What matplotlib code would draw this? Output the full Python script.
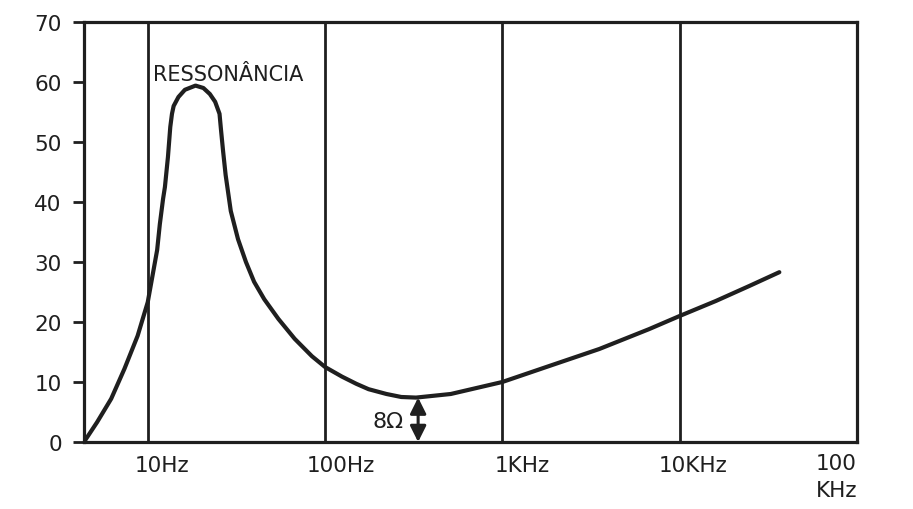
import matplotlib
matplotlib.use("Agg")
import matplotlib.pyplot as plt
from matplotlib import transforms

# impedance curve (Hz, ohms)
freq_hz = [4.37, 5.18, 6.22, 7.39, 8.77, 10.0, 11.3, 11.7, 12.2, 12.5, 13.0,
           13.4, 13.7, 14.0, 14.9, 16.2, 18.6, 20.6, 22.4, 24.0, 25.4, 25.9,
           26.6, 27.5, 29.4, 32.3, 35.8, 39.8, 45.4, 54.6, 67.4, 84.3, 100,
           124.5, 150, 176, 222, 269, 326, 512, 1000, 1854, 3524, 6710, 10000,
           16000, 24700, 36500]
impedance = [0.0, 3.3, 7.2, 12.2, 17.7, 23.3, 32.0, 36.3, 40.5, 42.5, 47.5,
             52.5, 54.7, 56.0, 57.5, 58.7, 59.4, 59.0, 58.0, 56.7, 54.7, 52.0,
             48.5, 44.5, 38.5, 33.8, 30.0, 26.7, 23.8, 20.5, 17.2, 14.3, 12.5,
             10.9, 9.7, 8.8, 8.0, 7.5, 7.4, 8.0, 10.0, 12.7, 15.5, 18.8, 21.0,
             23.5, 26.0, 28.3]

grid_freqs = [10, 100, 1000, 10000]
x_labels = ["10Hz", "100Hz", "1KHz", "10KHz"]
label_shift = [1.21, 1.22, 1.29, 1.19]
y_ticks = [0, 10, 20, 30, 40, 50, 60, 70]

res_freq, res_level = 10.7, 61.3
min_freq, min_level = 335, 7.4

ink = "#1f1f1f"

fig = plt.figure(figsize=(9.13, 5.10), dpi=100)
ax = fig.add_axes([0.092, 0.1314, 0.8466, 0.8235])

ax.plot(freq_hz, impedance, color=ink, lw=3.0, solid_capstyle="round",
        solid_joinstyle="round", zorder=3)

for f in grid_freqs:
    ax.axvline(f, color=ink, lw=2.0, zorder=2)

ax.set_xscale("log")
ax.set_xlim(4.37, 100000)
ax.set_ylim(0, 70)

for s in ax.spines.values():
    s.set_linewidth(2.3)
    s.set_color(ink)

ax.set_xticks([])
ax.minorticks_off()
ax.set_yticks(y_ticks)
ax.tick_params(axis="y", length=8, width=2.0, color=ink, pad=8,
               labelsize=15.5, labelcolor=ink)

# frequency labels sit just right of each grid line
tr = transforms.blended_transform_factory(ax.transData, ax.transAxes)
for f, lab, k in zip(grid_freqs, x_labels, label_shift):
    ax.text(f * k, -0.055, lab, transform=tr, ha="center", va="center",
            fontsize=15.5, color=ink)
ax.text(1.0, -0.05, "100", transform=ax.transAxes, ha="right", va="center",
        fontsize=15.5, color=ink)
ax.text(1.0, -0.115, "KHz", transform=ax.transAxes, ha="right", va="center",
        fontsize=15.5, color=ink)

ax.text(res_freq, res_level, "RESSONÂNCIA", ha="left", va="center",
        fontsize=15, color=ink)

ax.annotate("", xy=(min_freq, min_level), xytext=(min_freq, 0),
            arrowprops=dict(arrowstyle="<|-|>", color=ink, lw=2.2,
                            mutation_scale=24, shrinkA=0, shrinkB=0))
ax.text(min_freq / 1.2, 3.5, "8Ω", ha="right", va="center",
        fontsize=16, color=ink)

fig.savefig("out.png", dpi=100, facecolor="white")
